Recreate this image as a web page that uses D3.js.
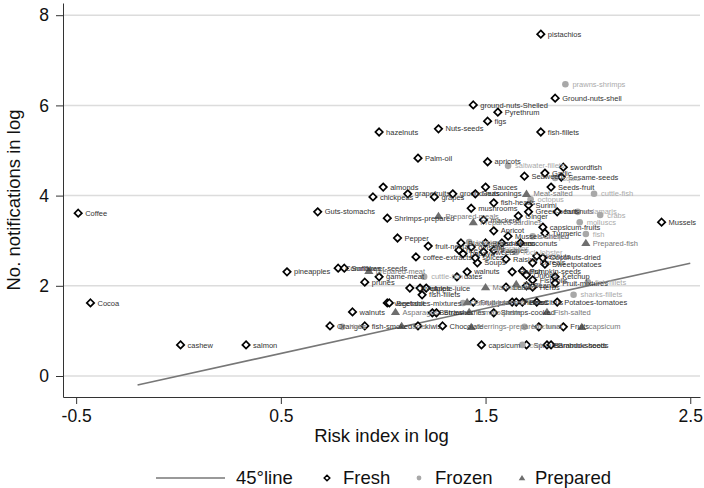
<!DOCTYPE html>
<html>
<head>
<meta charset="utf-8">
<script src="https://cdn.jsdelivr.net/npm/d3@7"></script>
<style>
  body { margin: 0; background: #fff; }
  svg { font-family: "Liberation Sans", Arial, sans-serif; }
</style>
</head>
<body>
<svg id="chart" width="704" height="488"></svg>
<script>
// ---- data (log risk index, log no. of notifications) ----
var freshLabels = ["pistachios","Ground-nuts-shell","ground-nuts-Shelled","Pyrethrum","figs","hazelnuts","Nuts-seeds","fish-fillets","Palm-oil","apricots",
  "swordfish","Garlic","Seaweed","Sesame-seeds","almonds","Sauces","Seeds-fruit","chickpeas","grapefruits","grapes",
  "ground-nuts","Seasonings","fish-heads","Surimi","mushrooms","Green-beans","fruit-nuts","Ginger","Guts-stomachs","Coffee",
  "Shrimps-prepared","mackerel","Mussels","capsicum-fruits","Apricot","Turmeric","Mussels-shelled","Pepper","fruit-nectar","Blackberries",
  "Broad-beans","melons","coconuts","coffee-extracts","rice","papaya","ginseng","Sweets","Pastries","Soups",
  "spices","Raisins","peanuts","Coconuts-dried","Cereals","Sweetpotatoes","pineapples","Cornflakes","Sunflower-seeds","game-meat",
  "prunes","walnuts","dates","Radish","Pumpkin-seeds","Onions","Fish-oils","Ketchup","Olives","Apples",
  "Apple-juice","fish-fillets","Lentils","Beans","Herbs","Fruit-mixtures","vegetables-mixtures","Beetroot","Fruit-juices","Cherries",
  "Plums","Pears","Citrus","Potatoes-tomatoes","walnuts","Berries","Strawberries","Shrimps-cooked","Oranges","fish-smoked",
  "kiwis","Chocolate","tuna","Fruits","cashew","salmon","capsicum","Sprouts","Bamboo-shoots","Bramble-seeds",
  "Cocoa"];
var freshRisk = [1.77,1.84,1.44,1.56,1.51,0.98,1.27,1.77,1.17,1.51,
  1.88,1.79,1.69,1.87,1.00,1.50,1.82,0.95,1.12,1.25,
  1.34,1.45,1.54,1.71,1.43,1.71,1.85,1.66,0.68,-0.49,
  1.02,1.49,2.36,1.78,1.54,1.79,1.61,1.07,1.22,1.38,
  1.50,1.58,1.67,1.16,1.37,1.39,1.43,1.49,1.54,1.46,
  1.45,1.60,1.75,1.78,1.73,1.79,0.53,0.78,0.81,0.98,
  0.91,1.41,1.36,1.63,1.68,1.70,1.73,1.84,1.13,1.18,
  1.21,1.19,1.60,1.70,1.73,1.84,1.02,1.03,1.44,1.63,
  1.65,1.68,1.75,1.85,0.85,1.24,1.26,1.54,0.74,0.91,
  1.17,1.29,1.76,1.88,0.01,0.33,1.48,1.70,1.80,1.82,
  -0.43];
var freshNotif = [7.58,6.16,6.01,5.85,5.65,5.41,5.48,5.41,4.83,4.75,
  4.63,4.50,4.43,4.41,4.19,4.19,4.19,3.97,4.04,3.97,
  4.04,4.04,3.84,3.79,3.72,3.64,3.64,3.55,3.64,3.61,
  3.50,3.46,3.41,3.30,3.22,3.17,3.10,3.06,2.88,2.95,
  2.95,2.95,2.95,2.64,2.79,2.71,2.86,2.75,2.79,2.51,
  2.62,2.59,2.66,2.62,2.51,2.48,2.31,2.39,2.39,2.20,
  2.08,2.31,2.20,2.31,2.33,2.24,2.13,2.20,1.95,1.95,
  1.95,1.80,1.97,2.00,1.97,2.06,1.62,1.62,1.64,1.64,
  1.64,1.64,1.64,1.64,1.42,1.40,1.40,1.40,1.11,1.11,
  1.11,1.11,1.09,1.09,0.69,0.69,0.69,0.69,0.69,0.69,
  1.62];

var frozenLabels = ["prawns-shrimps","saltwater-fillets","squid","cuttle-fish","octopus","calamaris","crabs","molluscs","fish","scallops",
  "lobsters","prawns","rock-lobster","cuttle-fish","fish-fillets","sharks-fillets","Fish-sticks","Hake","Mackerel","cod"];
var frozenRisk = [1.89,1.61,1.84,2.03,1.72,1.95,2.06,1.96,1.99,1.73,
  1.42,1.56,1.65,1.20,2.00,1.93,1.39,0.80,1.69,1.68];
var frozenNotif = [6.47,4.66,4.39,4.04,3.92,3.64,3.57,3.41,3.15,3.10,
  2.97,2.84,2.75,2.20,2.08,1.80,1.62,1.09,1.09,0.69];

var preparedLabels = ["Meat-salted","Prepared-meals","Prepared-sardines","Prepared-fish","prepared-meat","Marmalade","Pizza","Fruit-preserves","Asparagus","Tomato-paste",
  "Fish-salted","Jams","Herrings-prepared","capsicum"];
var preparedRisk = [1.70,1.27,1.44,1.99,0.93,1.50,1.65,1.41,1.06,1.42,
  1.80,1.09,1.43,1.97];
var preparedNotif = [4.04,3.55,3.41,2.95,2.33,1.97,2.04,1.64,1.42,1.42,
  1.42,1.11,1.09,1.09];

var lineEnds = [-0.2, 2.5];          // 45 degree line y = x
var xTicks = [-0.5, 0.5, 1.5, 2.5];
var yTicks = [0, 2, 4, 6, 8];
var legendItems = ["45\u00b0line", "Fresh", "Frozen", "Prepared"];

function zip(labels, xs, ys) {
  var out = [];
  for (var i = 0; i < labels.length; i++) out.push({label: labels[i], x: xs[i], y: ys[i]});
  return out;
}
var fresh = zip(freshLabels, freshRisk, freshNotif);
var frozen = zip(frozenLabels, frozenRisk, frozenNotif);
var prepared = zip(preparedLabels, preparedRisk, preparedNotif);

// ---- layout ----  (note: "top" is a reserved window prop, so use a margin object)
var plot = {l: 63, r: 700, t: 3, b: 397};
var svg = d3.select("#chart");

var xScale = d3.scaleLinear().domain([-0.5642, 2.5476]).range([plot.l, plot.r]);
var yScale = d3.scaleLinear().domain([-0.4656, 8.2705]).range([plot.b, plot.t]);

// gridlines
svg.append("g").selectAll("line")
  .data(yTicks)
  .enter().append("line")
  .attr("x1", plot.l).attr("x2", plot.r)
  .attr("y1", function(d) { return yScale(d); })
  .attr("y2", function(d) { return yScale(d); })
  .attr("stroke", "#dcdcdc")
  .attr("stroke-width", 1.5);

// axes
var yAxis = svg.append("g")
  .attr("transform", "translate(" + plot.l + ",0)")
  .call(d3.axisLeft(yScale).tickValues(yTicks).tickSize(7).tickSizeOuter(0).tickPadding(7));
var xAxis = svg.append("g")
  .attr("transform", "translate(0," + plot.b + ")")
  .call(d3.axisBottom(xScale).tickValues(xTicks).tickSize(7).tickSizeOuter(0).tickPadding(6)
    .tickFormat(function(d) { return d; }));
[xAxis, yAxis].forEach(function(a) {
  a.selectAll("text").attr("font-size", 17.5).attr("fill", "#111")
    .attr("font-family", "Liberation Sans, Arial, sans-serif");
  a.selectAll("line, path").attr("stroke", "#333");
});

svg.append("text")
  .attr("transform", "translate(20," + ((plot.t + plot.b) / 2) + ") rotate(-90)")
  .attr("text-anchor", "middle")
  .attr("font-size", 18.5)
  .attr("fill", "#111")
  .text("No. notifications in log");
svg.append("text")
  .attr("x", (plot.l + plot.r) / 2)
  .attr("y", 442)
  .attr("text-anchor", "middle")
  .attr("font-size", 18.5)
  .attr("fill", "#111")
  .text("Risk index in log");

// 45 degree line
var line = d3.line()
  .x(function(d) { return xScale(d); })
  .y(function(d) { return yScale(d); });
svg.append("path")
  .datum(lineEnds)
  .attr("d", line)
  .attr("fill", "none")
  .attr("stroke", "#777")
  .attr("stroke-width", 1.6);

// marker shapes
function diamondPath(r) { return "M0," + (-r) + "L" + r + ",0L0," + r + "L" + (-r) + ",0Z"; }
function trianglePath(r) { return "M0," + (-r) + "L" + (r * 1.1) + "," + (r * 0.75) + "L" + (-r * 1.1) + "," + (r * 0.75) + "Z"; }

var pts = svg.append("g");

pts.append("g").selectAll("path")
  .data(fresh)
  .enter().append("path")
  .attr("d", diamondPath(3.7))
  .attr("transform", function(d) { return "translate(" + xScale(d.x) + "," + yScale(d.y) + ")"; })
  .attr("fill", "#fff")
  .attr("stroke", "#000")
  .attr("stroke-width", 1.7);

pts.append("g").selectAll("circle")
  .data(frozen)
  .enter().append("circle")
  .attr("cx", function(d) { return xScale(d.x); })
  .attr("cy", function(d) { return yScale(d.y); })
  .attr("r", 3.3)
  .attr("fill", "#a8a8a8");

pts.append("g").selectAll("path")
  .data(prepared)
  .enter().append("path")
  .attr("d", trianglePath(4.2))
  .attr("transform", function(d) { return "translate(" + xScale(d.x) + "," + yScale(d.y) + ")"; })
  .attr("fill", "#6e6e6e");

// point labels
function addLabels(data, colour) {
  svg.append("g").selectAll("text")
    .data(data)
    .enter().append("text")
    .attr("x", function(d) { return xScale(d.x) + 7; })
    .attr("y", function(d) { return yScale(d.y); })
    .attr("dy", "0.35em")
    .attr("font-size", 7.5)
    .attr("fill", colour)
    .text(function(d) { return d.label; });
}
addLabels(fresh, "#333");
addLabels(frozen, "#aaa");
addLabels(prepared, "#777");

// legend
var leg = svg.append("g").attr("font-size", 18.5).attr("fill", "#111");
var ly = 478;
leg.append("line").attr("x1", 156).attr("x2", 225).attr("y1", ly).attr("y2", ly)
  .attr("stroke", "#777").attr("stroke-width", 1.6);
leg.append("text").attr("x", 236).attr("y", ly).attr("dy", "0.35em").text(legendItems[0]);
leg.append("path").attr("d", diamondPath(2.8)).attr("transform", "translate(327," + ly + ")")
  .attr("fill", "#fff").attr("stroke", "#000").attr("stroke-width", 1.5);
leg.append("text").attr("x", 343).attr("y", ly).attr("dy", "0.35em").text(legendItems[1]);
leg.append("circle").attr("cx", 419).attr("cy", ly).attr("r", 2.4).attr("fill", "#a8a8a8");
leg.append("text").attr("x", 435).attr("y", ly).attr("dy", "0.35em").text(legendItems[2]);
leg.append("path").attr("d", trianglePath(3)).attr("transform", "translate(522," + ly + ")").attr("fill", "#6e6e6e");
leg.append("text").attr("x", 535).attr("y", ly).attr("dy", "0.35em").text(legendItems[3]);
</script>
</body>
</html>
